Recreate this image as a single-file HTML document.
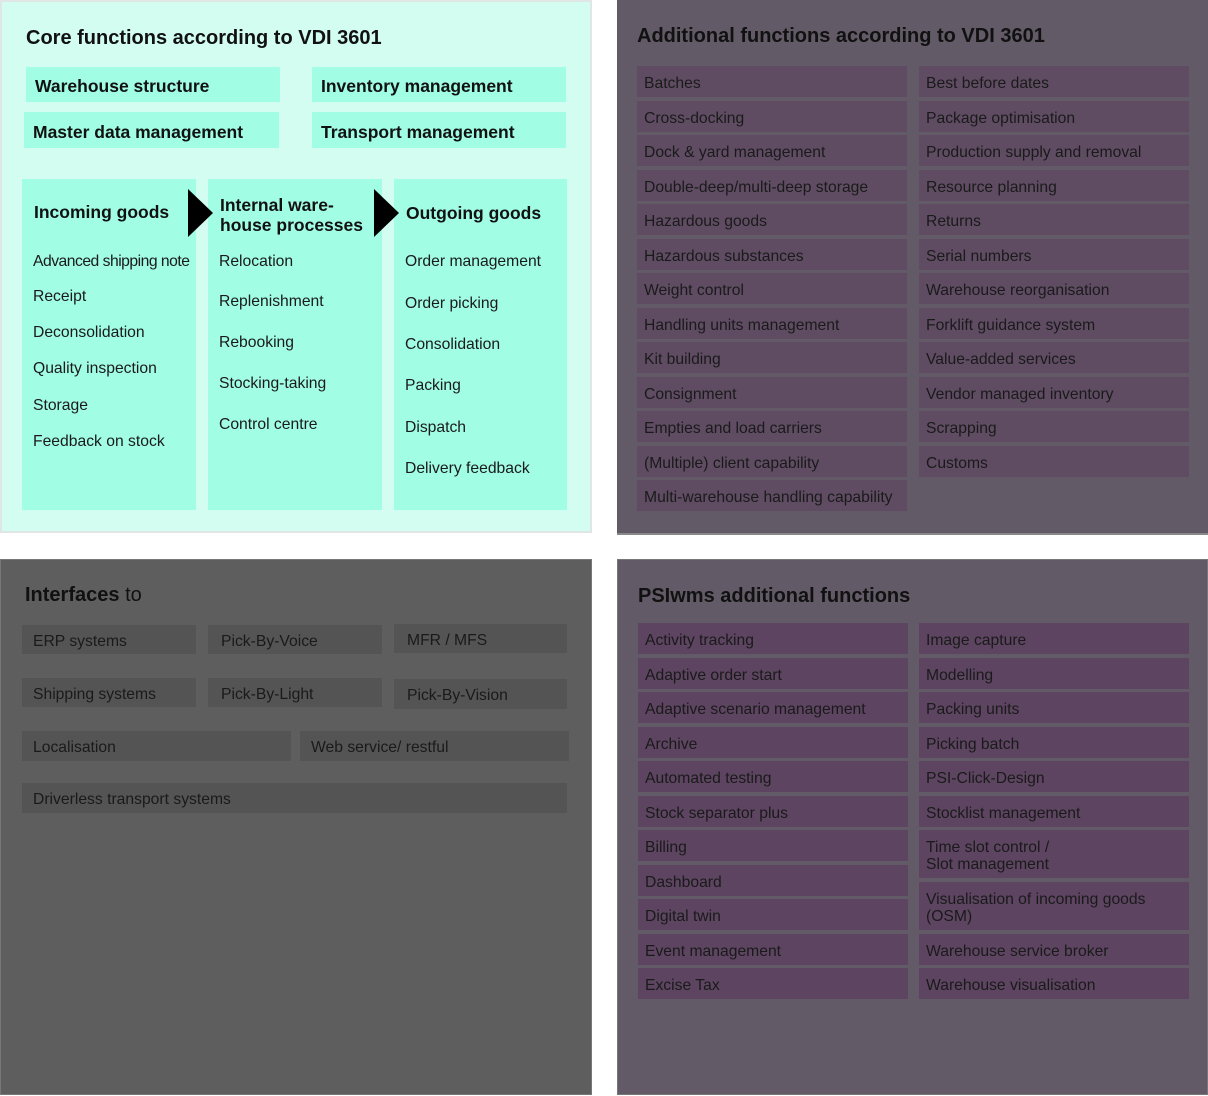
<!DOCTYPE html>
<html><head><meta charset="utf-8"><style>
*{margin:0;padding:0;box-sizing:border-box}
body{width:1208px;height:1096px;position:relative;background:#fff;font-family:"Liberation Sans","DejaVu Sans",sans-serif;color:#1a1a1a;overflow:hidden}
.p{position:absolute}
.b{position:absolute;font-size:15.7px;padding-left:7px;padding-top:4px;white-space:nowrap;display:flex;align-items:center}
.h{position:absolute;font-size:20px;font-weight:bold;color:#111;white-space:nowrap}
.t{position:absolute;font-size:15.7px;white-space:nowrap;line-height:20px;margin-top:2px}
.c{background:#a1fde4;font-weight:bold;font-size:17.5px;color:#111;padding-left:9px}
.v{background:#5f4c63}
.g{background:#545454}
.w{background:#5d4461}
</style></head><body>
<!-- TL -->
<div class="p" style="left:0;top:0;width:592px;height:533px;background:#d2fdf0;border:2px solid #e0e6e3"></div>
<div class="h" style="left:26px;top:27px">Core functions according to VDI 3601</div>
<div class="b c" style="left:26px;top:67px;width:254px;height:35px">Warehouse structure</div>
<div class="b c" style="left:312px;top:67px;width:254px;height:35px">Inventory management</div>
<div class="b c" style="left:24px;top:112px;width:255px;height:36px">Master data management</div>
<div class="b c" style="left:312px;top:112px;width:254px;height:36px">Transport management</div>
<div class="p" style="left:22px;top:179px;width:174px;height:331px;background:#a1fde4"></div>
<div class="p" style="left:208px;top:179px;width:174px;height:331px;background:#a1fde4"></div>
<div class="p" style="left:394px;top:179px;width:173px;height:331px;background:#a1fde4"></div>
<svg class="p" style="left:0;top:0" width="592" height="533"><polygon points="188,189 213,213 188,237" fill="#000"/><polygon points="374,189 399,213 374,237" fill="#000"/></svg>
<div class="t" style="left:34px;top:200px;font-weight:bold;font-size:17.5px;color:#111">Incoming goods</div>
<div class="t" style="left:220px;top:193px;font-weight:bold;font-size:17.5px;color:#111;line-height:20px">Internal ware-<br>house processes</div>
<div class="t" style="left:406px;top:201px;font-weight:bold;font-size:17.5px;color:#111">Outgoing goods</div>
<div class="t" style="left:33px;top:250px;letter-spacing:-0.5px">Advanced shipping note</div>
<div class="t" style="left:33px;top:285px">Receipt</div>
<div class="t" style="left:33px;top:321px">Deconsolidation</div>
<div class="t" style="left:33px;top:357px">Quality inspection</div>
<div class="t" style="left:33px;top:394px">Storage</div>
<div class="t" style="left:33px;top:430px">Feedback on stock</div>
<div class="t" style="left:219px;top:250px">Relocation</div>
<div class="t" style="left:219px;top:290px">Replenishment</div>
<div class="t" style="left:219px;top:331px">Rebooking</div>
<div class="t" style="left:219px;top:372px">Stocking-taking</div>
<div class="t" style="left:219px;top:413px">Control centre</div>
<div class="t" style="left:405px;top:250px">Order management</div>
<div class="t" style="left:405px;top:292px">Order picking</div>
<div class="t" style="left:405px;top:333px">Consolidation</div>
<div class="t" style="left:405px;top:374px">Packing</div>
<div class="t" style="left:405px;top:416px">Dispatch</div>
<div class="t" style="left:405px;top:457px">Delivery feedback</div>
<!-- TR -->
<div class="p" style="left:617px;top:0;width:591px;height:535px;background:#625a66;border-bottom:2px solid #888"></div>
<div class="h" style="left:637px;top:25px">Additional functions according to VDI 3601</div>
<div class="b v" style="left:637px;top:66px;width:270px;height:31px">Batches</div>
<div class="b v" style="left:637px;top:101px;width:270px;height:31px">Cross-docking</div>
<div class="b v" style="left:637px;top:135px;width:270px;height:31px">Dock &amp; yard management</div>
<div class="b v" style="left:637px;top:170px;width:270px;height:31px">Double-deep/multi-deep storage</div>
<div class="b v" style="left:637px;top:204px;width:270px;height:31px">Hazardous goods</div>
<div class="b v" style="left:637px;top:239px;width:270px;height:31px">Hazardous substances</div>
<div class="b v" style="left:637px;top:273px;width:270px;height:31px">Weight control</div>
<div class="b v" style="left:637px;top:308px;width:270px;height:31px">Handling units management</div>
<div class="b v" style="left:637px;top:342px;width:270px;height:31px">Kit building</div>
<div class="b v" style="left:637px;top:377px;width:270px;height:31px">Consignment</div>
<div class="b v" style="left:637px;top:411px;width:270px;height:31px">Empties and load carriers</div>
<div class="b v" style="left:637px;top:446px;width:270px;height:31px">(Multiple) client capability</div>
<div class="b v" style="left:637px;top:480px;width:270px;height:31px">Multi-warehouse handling capability</div>
<div class="b v" style="left:919px;top:66px;width:270px;height:31px">Best before dates</div>
<div class="b v" style="left:919px;top:101px;width:270px;height:31px">Package optimisation</div>
<div class="b v" style="left:919px;top:135px;width:270px;height:31px">Production supply and removal</div>
<div class="b v" style="left:919px;top:170px;width:270px;height:31px">Resource planning</div>
<div class="b v" style="left:919px;top:204px;width:270px;height:31px">Returns</div>
<div class="b v" style="left:919px;top:239px;width:270px;height:31px">Serial numbers</div>
<div class="b v" style="left:919px;top:273px;width:270px;height:31px">Warehouse reorganisation</div>
<div class="b v" style="left:919px;top:308px;width:270px;height:31px">Forklift guidance system</div>
<div class="b v" style="left:919px;top:342px;width:270px;height:31px">Value-added services</div>
<div class="b v" style="left:919px;top:377px;width:270px;height:31px">Vendor managed inventory</div>
<div class="b v" style="left:919px;top:411px;width:270px;height:31px">Scrapping</div>
<div class="b v" style="left:919px;top:446px;width:270px;height:31px">Customs</div>
<!-- BL -->
<div class="p" style="left:0;top:559px;width:592px;height:536px;background:#5e5e5e;border:1px solid #777"></div>
<div class="h" style="left:25px;top:584px">Interfaces <span style="font-weight:normal">to</span></div>
<div class="b g" style="left:22px;top:625px;width:174px;height:29px;padding-left:11px">ERP systems</div>
<div class="b g" style="left:208px;top:625px;width:174px;height:29px;padding-left:13px">Pick-By-Voice</div>
<div class="b g" style="left:394px;top:624px;width:173px;height:29px;padding-left:13px">MFR / MFS</div>
<div class="b g" style="left:22px;top:678px;width:174px;height:29px;padding-left:11px">Shipping systems</div>
<div class="b g" style="left:208px;top:678px;width:174px;height:29px;padding-left:13px">Pick-By-Light</div>
<div class="b g" style="left:394px;top:679px;width:173px;height:30px;padding-left:13px">Pick-By-Vision</div>
<div class="b g" style="left:22px;top:731px;width:269px;height:30px;padding-left:11px">Localisation</div>
<div class="b g" style="left:300px;top:731px;width:269px;height:30px;padding-left:11px">Web service/ restful</div>
<div class="b g" style="left:22px;top:783px;width:545px;height:30px;padding-left:11px">Driverless transport systems</div>
<!-- BR -->
<div class="p" style="left:617px;top:559px;width:591px;height:536px;background:#625a66;border:1px solid #777"></div>
<div class="h" style="left:638px;top:585px">PSIwms additional functions</div>
<div class="b w" style="left:638px;top:623px;width:270px;height:31px">Activity tracking</div>
<div class="b w" style="left:638px;top:658px;width:270px;height:31px">Adaptive order start</div>
<div class="b w" style="left:638px;top:692px;width:270px;height:31px">Adaptive scenario management</div>
<div class="b w" style="left:638px;top:727px;width:270px;height:31px">Archive</div>
<div class="b w" style="left:638px;top:761px;width:270px;height:31px">Automated testing</div>
<div class="b w" style="left:638px;top:796px;width:270px;height:31px">Stock separator plus</div>
<div class="b w" style="left:638px;top:830px;width:270px;height:31px">Billing</div>
<div class="b w" style="left:638px;top:865px;width:270px;height:31px">Dashboard</div>
<div class="b w" style="left:638px;top:899px;width:270px;height:31px">Digital twin</div>
<div class="b w" style="left:638px;top:934px;width:270px;height:31px">Event management</div>
<div class="b w" style="left:638px;top:968px;width:270px;height:31px">Excise Tax</div>
<div class="b w" style="left:919px;top:623px;width:270px;height:31px">Image capture</div>
<div class="b w" style="left:919px;top:658px;width:270px;height:31px">Modelling</div>
<div class="b w" style="left:919px;top:692px;width:270px;height:31px">Packing units</div>
<div class="b w" style="left:919px;top:727px;width:270px;height:31px">Picking batch</div>
<div class="b w" style="left:919px;top:761px;width:270px;height:31px">PSI-Click-Design</div>
<div class="b w" style="left:919px;top:796px;width:270px;height:31px">Stocklist management</div>
<div class="b w" style="left:919px;top:830px;width:270px;height:48px;line-height:17px">Time slot control /<br>Slot management</div>
<div class="b w" style="left:919px;top:882px;width:270px;height:48px;line-height:17px">Visualisation of incoming goods<br>(OSM)</div>
<div class="b w" style="left:919px;top:934px;width:270px;height:31px">Warehouse service broker</div>
<div class="b w" style="left:919px;top:968px;width:270px;height:31px">Warehouse visualisation</div>
</body></html>
